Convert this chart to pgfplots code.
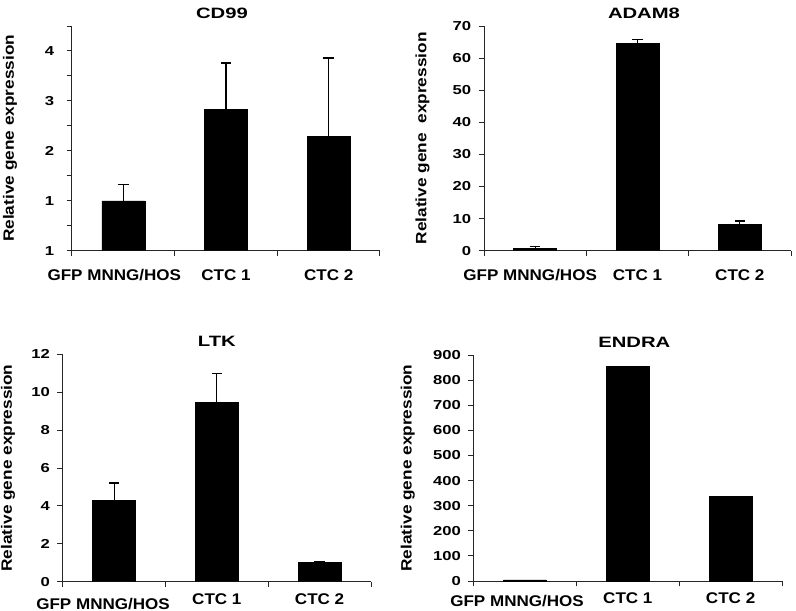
\documentclass[border=0pt]{standalone}
\usepackage{fontspec}
\setmainfont{Liberation Sans}
\newfontfamily\ttlfont[FakeStretch=1.35]{Liberation Sans}
\newfontfamily\tickfont[FakeStretch=1.28]{Liberation Sans}
\newfontfamily\catfont[FakeStretch=1.1]{Liberation Sans}
\newfontfamily\labfont[FakeStretch=1.15]{Liberation Sans}
\usepackage{pgfplots}
\pgfplotsset{compat=1.18}

\pgfplotsset{
  panel/.style={
    scale only axis, ybar, bar width=43pt, bar shift=0pt,
    axis x line=bottom, axis y line=left,
    axis line style={-, black!85, line width=1pt},
    tick align=outside, major tick length=5.3pt, minor tick length=5.3pt,
    tick style={black!85, line width=1pt},
    xmin=-0.5, xmax=2.5, ymin=0,
    xtick={-0.5,0.5,1.5,2.5}, xticklabels={},
    extra x ticks={0,1,2},
    extra x tick style={major tick length=0pt, tick style={draw=none}},
    x tick label style={anchor=base, font=\catfont\bfseries\fontsize{15.5}{16}\selectfont},
    y tick label style={xshift=-4pt, font=\tickfont\bfseries\fontsize{13}{14}\selectfont},
    /pgf/number format/assume math mode=true,
    ylabel style={anchor=center, font=\labfont\bfseries\fontsize{15}{16}\selectfont},
    title style={at={(axis description cs:0.5,1)}, anchor=center, yshift=6.7pt,
      font=\ttlfont\bfseries\fontsize{15}{17}\selectfont},
  },
  bars/.style={fill=black, draw=black,
    error bars/.cd, y dir=plus, y explicit,
    error bar style={line width=1.1pt, black},
    error mark options={rotate=90, line width=1.1pt, mark size=5.2pt, black}},
}

\begin{document}
\begin{tikzpicture}
\useasboundingbox (0,0) rectangle (796pt,-611pt);

% CD99
\begin{axis}[panel, at={(72pt,-250.7pt)}, anchor=south west,
  width=308pt, height=224.7pt, ymax=4.5,
  ytick={0,0.5,...,4.5}, yticklabels={1,{},1,{},2,{},3,{},4,{}},
  y tick label style={xshift=-5pt},
  extra x tick labels={\hspace*{-18pt}GFP MNNG/HOS, CTC 1, CTC 2},
  x tick label style={yshift=-30pt},
  title={CD99}, title style={xshift=-4pt},
  ylabel={Relative gene expression},
  ylabel style={at={(axis description cs:-0.201,0.5)}}]
\addplot[bars] coordinates {(0,1.00) +- (0,0.32) (1,2.83) +- (0,0.93) (2,2.29) +- (0,1.57)};
\end{axis}

% ADAM8
\begin{axis}[panel, at={(484pt,-250.7pt)}, anchor=south west,
  width=307pt, height=224.7pt, ymax=70, ytick={0,10,...,70},
  extra x tick labels={\hspace*{-10pt}GFP MNNG/HOS, CTC 1, CTC 2},
  x tick label style={yshift=-30pt},
  title={ADAM8}, title style={xshift=6.5pt},
  ylabel={Relative gene\ \ expression},
  ylabel style={at={(axis description cs:-0.2,0.5)}}]
\addplot[bars] coordinates {(0,0.8) +- (0,0.45) (1,64.6) +- (0,1.1) (2,8.2) +- (0,1.05)};
\end{axis}

% LTK
\begin{axis}[panel, at={(62.7pt,-581.7pt)}, anchor=south west,
  width=308.3pt, height=227.4pt, ymax=12, ytick={0,2,...,12},
  extra x tick labels={\hspace*{-22pt}\raisebox{-5pt}{GFP MNNG/HOS}, CTC 1, CTC 2},
  x tick label style={yshift=-22.3pt},
  title={LTK},
  ylabel={Relative gene expression},
  ylabel style={at={(axis description cs:-0.177,0.5)}}]
\addplot[bars] coordinates {(0,4.31) +- (0,0.9) (1,9.45) +- (0,1.55) (2,1.02) +- (0,0.04)};
\end{axis}

% ENDRA
\begin{axis}[panel, at={(473.7pt,-581pt)}, anchor=south west,
  width=308.3pt, height=226pt, ymax=900, ytick={0,100,...,900},
  extra x tick labels={\hspace*{-16pt}\raisebox{-2.7pt}{GFP MNNG/HOS}, CTC 1, CTC 2},
  x tick label style={yshift=-22.3pt},
  title={ENDRA}, title style={xshift=6.5pt},
  ylabel={Relative gene expression},
  ylabel style={at={(axis description cs:-0.214,0.5)}}]
\addplot[fill=black, draw=black] coordinates {(0,5) (1,855) (2,337)};
\end{axis}
\end{tikzpicture}
\end{document}
